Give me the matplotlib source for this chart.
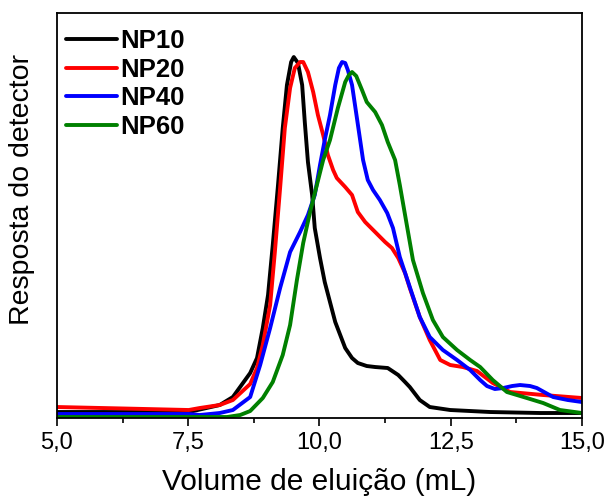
import matplotlib
matplotlib.use("Agg")
import matplotlib.pyplot as plt
from matplotlib.ticker import FixedLocator, FuncFormatter

plt.rcParams["font.family"] = ["Liberation Sans", "DejaVu Sans"]

# elution volume (mL) vs detector response (arbitrary units)
x_np10 = [5.0, 6.28, 7.51, 8.10, 8.35, 8.68, 8.81, 8.92, 9.02, 9.11, 9.21, 9.30,
          9.38, 9.46, 9.51, 9.59, 9.67, 9.72, 9.78, 9.86, 9.91, 10.01, 10.10,
          10.20, 10.30, 10.49, 10.62, 10.73, 10.90, 11.06, 11.30, 11.50, 11.63,
          11.72, 11.91, 12.10, 12.49, 13.25, 14.20, 15.0]
y_np10 = [6, 6, 6, 13, 21, 45, 60, 90, 123, 173, 233, 290,
          333, 356, 361, 355, 333, 296, 256, 223, 190, 160, 136,
          116, 96, 70, 60, 55, 52, 51, 50, 43, 36,
          31, 18, 11, 8, 6, 5, 5]

x_np20 = [5.0, 6.28, 7.51, 7.72, 8.10, 8.35, 8.68, 8.81, 8.92, 9.06, 9.15, 9.25,
          9.34, 9.44, 9.53, 9.63, 9.69, 9.78, 9.88, 9.97, 10.07, 10.16, 10.26,
          10.33, 10.49, 10.62, 10.73, 10.87, 11.06, 11.25, 11.38, 11.50, 11.63,
          11.72, 11.91, 12.10, 12.30, 12.49, 12.73, 13.00, 13.30, 13.63, 14.26,
          15.0]
y_np20 = [11, 9.5, 8, 10, 13, 18, 34, 50, 73, 113, 166, 230,
          290, 330, 350, 356, 356, 346, 326, 303, 283, 263, 248,
          240, 231, 223, 206, 196, 186, 176, 170, 160, 145,
          130, 101, 78, 58, 53, 51, 47, 35, 26, 23,
          20]

x_np40 = [5.0, 7.51, 7.72, 8.10, 8.35, 8.68, 8.87, 9.06, 9.25, 9.44, 9.63, 9.78,
          9.91, 10.01, 10.10, 10.20, 10.30, 10.37, 10.43, 10.49, 10.54, 10.62,
          10.71, 10.83, 10.92, 11.02, 11.15, 11.29, 11.40, 11.53, 11.72, 11.91,
          12.10, 12.35, 12.62, 12.87, 13.06, 13.19, 13.34, 13.50, 13.67, 13.82,
          14.01, 14.14, 14.45, 14.73, 15.0]
y_np40 = [4, 4, 3, 5, 8, 21, 53, 90, 130, 166, 186, 203,
          223, 253, 278, 303, 333, 350, 356, 355, 348, 333,
          301, 258, 238, 228, 218, 205, 190, 161, 131, 101,
          81, 68, 58, 48, 38, 32, 29, 30, 32, 33,
          32, 30, 21, 18, 16]

x_np60 = [5.0, 7.51, 8.24, 8.49, 8.68, 8.92, 9.11, 9.30, 9.44, 9.57, 9.69, 9.82,
          9.95, 10.07, 10.20, 10.35, 10.49, 10.56, 10.62, 10.70, 10.81, 10.90,
          11.06, 11.19, 11.30, 11.44, 11.53, 11.67, 11.78, 11.97, 12.16, 12.35,
          12.62, 12.87, 13.06, 13.30, 13.57, 13.95, 14.26, 14.58, 15.0]
y_np60 = [1, 1, 1, 3, 7, 20, 36, 63, 93, 138, 175, 206,
          233, 258, 278, 310, 336, 343, 346, 342, 328, 316,
          306, 293, 276, 258, 233, 191, 158, 125, 98, 81,
          68, 58, 51, 38, 26, 20, 15, 8, 5]

labels = ["NP10", "NP20", "NP40", "NP60"]
colors = ["black", "red", "blue", "green"]
major_ticks = [5.0, 7.5, 10.0, 12.5, 15.0]
minor_ticks = [6.25, 8.75, 11.25, 13.75]

fig = plt.figure(figsize=(6.1, 4.99), dpi=100)
ax = fig.add_axes([0.0934, 0.1623, 0.8607, 0.8116])

series = [(x_np10, y_np10), (x_np20, y_np20), (x_np40, y_np40), (x_np60, y_np60)]
for (xs, ys), lab, col in zip(series, labels, colors):
    ax.plot(xs, ys, color=col, lw=2.8, label=lab,
            solid_joinstyle="round", solid_capstyle="round")

ax.set_xlim(5, 15)
ax.set_ylim(0, 405)
ax.xaxis.set_major_locator(FixedLocator(major_ticks))
ax.xaxis.set_minor_locator(FixedLocator(minor_ticks))
ax.xaxis.set_major_formatter(FuncFormatter(lambda v, p: f"{v:.1f}".replace(".", ",")))
ax.set_yticks([])
ax.tick_params(axis="x", which="major", direction="out", length=6, width=1.2,
               labelsize=17, pad=4)
ax.tick_params(axis="x", which="minor", direction="out", length=3.5, width=1.2)
for sp in ax.spines.values():
    sp.set_linewidth(1.3)

ax.set_xlabel("Volume de eluição (mL)", fontsize=21.5, labelpad=10)
ax.set_ylabel("Resposta do detector", fontsize=20.5)
ax.yaxis.set_label_coords(-0.042, 0.565)

ax.legend(loc="upper left", bbox_to_anchor=(0.018, 0.96), frameon=False,
          prop={"weight": "bold", "size": 18.5}, handlelength=1.95,
          handletextpad=0.15, labelspacing=0.18, borderaxespad=0.0,
          borderpad=0.0)

fig.savefig("out.png", dpi=100)
